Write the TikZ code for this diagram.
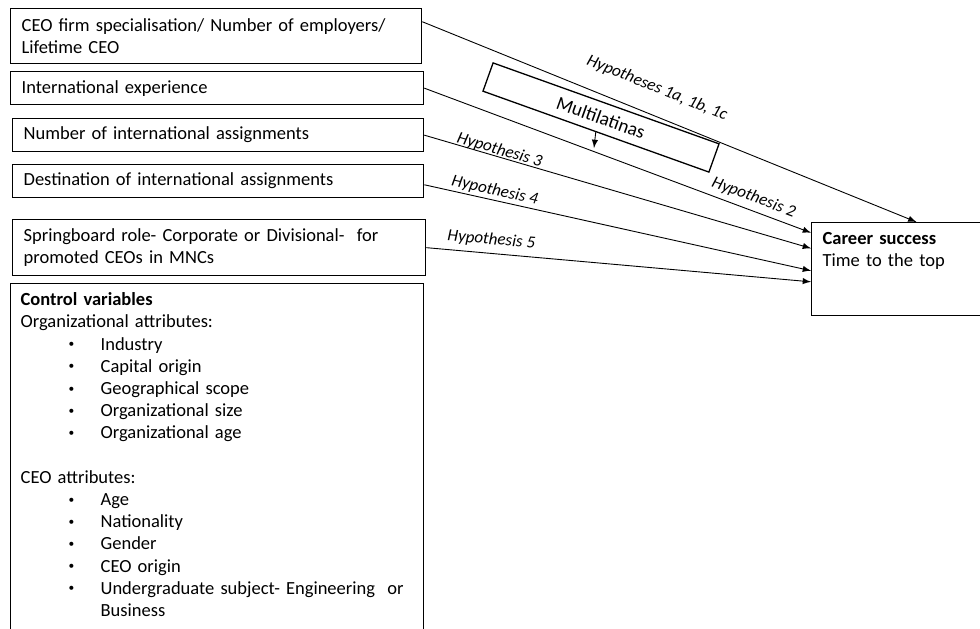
\documentclass[tikz,border=0pt]{standalone}
\usepackage{fontspec}
\setmainfont{Carlito}
\usetikzlibrary{arrows}
\newcommand{\ctrlitem}[1]{\hspace*{24pt}\makebox[16pt][l]{\raisebox{1.2pt}{\scalebox{0.62}{\textbullet}}}#1}

\begin{document}
\begin{tikzpicture}[x=0.5pt,y=-0.5pt,>=latex,
    varbox/.style={draw,line width=0.65pt,anchor=north west,align=left,inner xsep=5.5pt,
      font=\fontsize{9.25}{11.1}\selectfont},
    topbox/.style={varbox,inner ysep=3pt,text height=8pt},
    conn/.style={->,line width=0.45pt},
    hyp/.style={sloped,anchor=base,inner sep=0pt,font=\fontsize{8.5}{10}\selectfont\itshape}]
  \useasboundingbox (0,0) rectangle (980,628);
  \node[varbox,text width=194.5pt,minimum height=27.5pt] (firm) at (10,8)
    {CEO firm specialisation/ Number of employers/\\Lifetime CEO};
  \node[varbox,text width=195.5pt,minimum height=16.5pt] (intl) at (10,71)
    {International experience};
  \node[varbox,text width=194.5pt,minimum height=16.5pt] (numb) at (12,118)
    {Number of international assignments};
  \node[varbox,text width=194.5pt,minimum height=16.5pt] (dest) at (12,164)
    {Destination of international assignments};
  \node[varbox,text width=195.5pt,minimum height=28pt] (spring) at (12,219)
    {Springboard role- Corporate or Divisional-\ \ for\\promoted CEOs in MNCs};
  \node[topbox,inner xsep=5pt,text width=196.5pt,text depth=200pt] (ctrl) at (10,283)
    {\textbf{Control variables}\\
     Organizational attributes:\\
     \ctrlitem{Industry}\\
     \ctrlitem{Capital origin}\\
     \ctrlitem{Geographical scope}\\
     \ctrlitem{Organizational size}\\
     \ctrlitem{Organizational age}\\[11.1pt]
     CEO attributes:\\
     \ctrlitem{Age}\\
     \ctrlitem{Nationality}\\
     \ctrlitem{Gender}\\
     \ctrlitem{CEO origin}\\
     \ctrlitem{Undergraduate subject- Engineering\ \ or}\\
     \hspace*{40pt}Business};
  \node[topbox,text width=78.5pt,text depth=32.5pt] (career) at (811,222)
    {\textbf{Career success}\\Time to the top};
  \node[draw,line width=0.65pt,rotate=-19.7,minimum width=120pt,minimum height=15pt,
    inner sep=0pt,font=\fontsize{9.6}{11}\selectfont] (multi) at (601,117.5) {Multilatinas};
  \coordinate (modtip) at (594,148);

  \draw[conn] (firm.4) -- node[hyp,pos=0.455,yshift=11pt]{Hypotheses 1a, 1b, 1c} (career.72.7);
  \draw[conn] (intl.east) -- node[hyp,pos=0.84,yshift=4.2pt]{Hypothesis 2} (career.158.4);
  \draw[conn] (numb.east) -- node[hyp,pos=0.19,yshift=1pt]{Hypothesis 3} (career.167);
  \draw[conn] (dest.-1) -- node[hyp,pos=0.177,yshift=2.5pt]{Hypothesis 4} (career.181);
  \draw[conn] (spring.east) -- node[hyp,pos=0.166,yshift=4.5pt]{Hypothesis 5} (career.188.6);
  \draw[conn] (multi.south) -- (modtip);
\end{tikzpicture}
\end{document}
